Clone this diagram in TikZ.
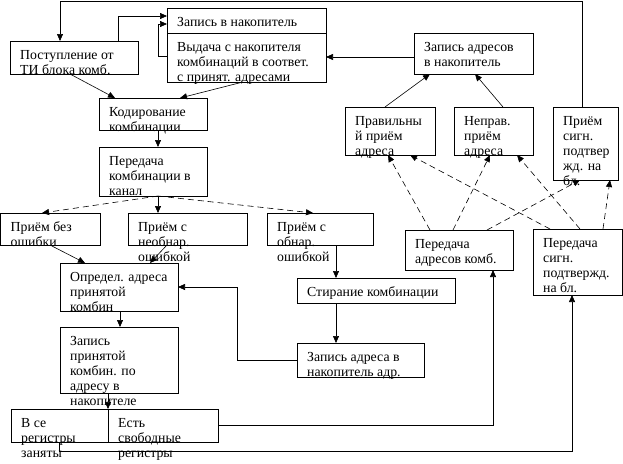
\documentclass[tikz,border=0pt]{standalone}
\usepackage{fontspec}
\setmainfont{Liberation Serif}
\usetikzlibrary{arrows.meta}
\newcommand\mybox[6]{%
  \node[box, minimum width={(#4-#2)*1pt}, minimum height={(#5-#3)*1pt}] (#1) at ({(#2+#4)/2},{(#3+#5)/2}) {};
  \node[txt] (#1-t) at ({#2+10},{#3+7}) {\rule{0pt}{11pt}#6};
}
\begin{document}
\begin{tikzpicture}[x=1pt,y=-1pt,
  box/.style={draw, line width=0.6pt, inner sep=0pt, outer sep=0pt},
  txt/.style={anchor=north west, inner sep=0pt, align=left, font=\fontsize{13.8}{15}\selectfont},
  arr/.style={-{Triangle[length=7pt,width=6pt]}, line width=0.6pt},
  dsh/.style={arr, dash pattern=on 6pt off 4pt},
  ln/.style={line width=0.6pt}]
\fill[white] (0,0) rectangle (623,463);
\useasboundingbox (0,0) rectangle (623,463);

\mybox{p1}{10}{41}{138}{74}{Поступление от\\ТИ блока комб.}
\mybox{zap}{167}{8}{326}{33}{Запись в накопитель}
\mybox{vyd}{167}{33}{326}{82}{Выдача с накопителя\\комбинаций в соответ.\\с принят. адресами}
\mybox{kod}{99}{98}{207}{130}{Кодирование\\комбинации}
\mybox{per}{99}{147}{207}{196}{Передача\\комбинации в\\канал}
\mybox{pr1}{0.5}{213}{100}{245}{Приём без\\ошибки}
\mybox{pr2}{128}{213}{247}{245}{Приём с\\необнар.\\ошибкой}
\mybox{pr3}{267}{213}{373}{245}{Приём с\\обнар.\\ошибкой}
\mybox{opr}{60}{263}{178}{311}{Определ. адреса\\принятой\\комбин}
\mybox{zpk}{60}{327}{178}{393}{Запись\\принятой\\комбин. по\\адресу в\\накопителе}
\mybox{vse}{11}{409}{108}{442}{В се\\регистры\\заняты}
\mybox{est}{108}{409}{218}{442}{Есть\\свободные\\регистры}
\mybox{sti}{297}{278}{455}{303}{Стирание комбинации}
\mybox{zad}{297}{343}{424}{377}{Запись адреса в\\накопитель адр.}
\mybox{zan}{414}{33}{533}{74}{Запись адресов\\в накопитель}
\mybox{prav}{345}{107}{435}{155}{Правильны\\й приём\\адреса}
\mybox{nepr}{454}{107}{533}{155}{Неправ.\\приём\\адреса}
\mybox{pss}{553}{107}{618}{180}{Приём\\сигн.\\подтвер\\жд. на\\бл.}
\mybox{pad}{405}{230}{513}{270}{Передача\\адресов комб.}
\mybox{psg}{533}{229}{622.5}{295}{Передача\\сигн.\\подтвержд.\\на бл.}

\coordinate (tl) at (60,1);

% left column
\draw[arr] ([xshift=60pt]p1.south west) -- ([xshift=16pt]kod.north west);
\draw[arr] ([xshift=76pt]vyd.south west) -- ([xshift=81pt]kod.north west);
\draw[arr] ([xshift=108pt]p1.north west) |- ([yshift=-8pt]zap.north west);
\draw[arr] ([yshift=-23pt]vyd.north west) -- ++(-9,0) |- ([yshift=-16pt]zap.north west);
\draw[arr] ([yshift=-3.5pt]zan.west) -- ([yshift=-3.5pt]zan.west -| vyd.east);
\draw[arr] ([xshift=59pt]kod.south west) -- ([xshift=59pt]per.north west);
\draw[dsh] ([xshift=59pt]per.south west) -- ([xshift=41.5pt]pr1.north west);
\draw[arr] ([xshift=59pt]per.south west) -- ([xshift=30pt]pr2.north west);
\draw[dsh] ([xshift=59pt]per.south west) -- ([xshift=46pt]pr3.north west);
\draw[arr] ([xshift=49.5pt]pr1.south west) -- ([xshift=25pt]opr.north west);
\draw[arr] ([xshift=39pt]pr2.south west) -- ([xshift=90pt]opr.north west);
\draw[arr] ([xshift=69pt]pr3.south west) -- ([xshift=39pt]sti.north west);
\draw[arr] ([xshift=39pt]sti.south west) -- ([xshift=39pt]zad.north west);
\draw[arr] ([xshift=60pt]opr.south west) -- ([xshift=60pt]zpk.north west);
\draw[arr] ([xshift=48pt]zpk.south west) -- (vse.north east);
\draw[arr] (zad.west) -- ++(-60,0) |- (opr.east);
\draw[arr] (est.east) -| ([xshift=88pt]pad.south west);
\draw[arr] ([xshift=48pt]vse.south west) -- ++(0,9) -| ([xshift=39pt]psg.south west);
\draw[arr] ([xshift=29pt]pss.north west) |- (tl) -- ([xshift=50pt]p1.north west);

% right part
\draw[arr] ([xshift=40pt]prav.north west) -- ([xshift=16pt]zan.south west);
\draw[arr] ([xshift=49pt]nepr.north west) -- ([xshift=61pt]zan.south west);
\draw[dsh] ([xshift=25pt]pad.north west) -- ([xshift=43pt]prav.south west);
\draw[dsh] ([xshift=48pt]pad.north west) -- ([xshift=36pt]nepr.south west);
\draw[dsh] ([xshift=82pt]pad.north west) -- ([xshift=27pt]pss.south west);
\draw[dsh] ([xshift=17pt]psg.north west) -- ([xshift=65pt]prav.south west);
\draw[dsh] ([xshift=47pt]psg.north west) -- ([xshift=63pt]nepr.south west);
\draw[dsh] ([xshift=70pt]psg.north west) -- ([xshift=57pt]pss.south west);
\end{tikzpicture}
\end{document}
